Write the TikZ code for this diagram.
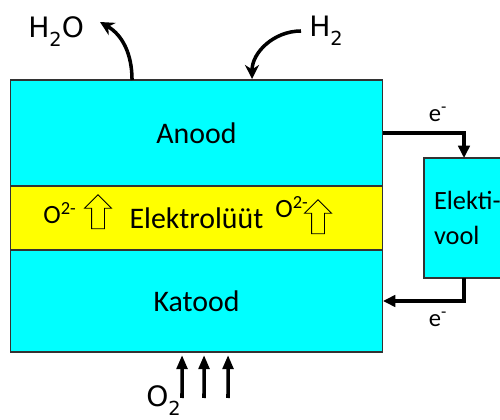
\documentclass[tikz,border=0pt]{standalone}
\usepackage{fontspec}
\setmainfont{Carlito}
\newfontfamily\gasfont{DejaVu Sans}
\usetikzlibrary{calc,shapes.arrows,arrows.meta}
\definecolor{cellcyan}{RGB}{0,255,255}
\definecolor{cellyellow}{RGB}{255,255,0}

\begin{document}
\begin{tikzpicture}[x=0.02cm,y=0.02cm,
    layer/.style={draw=black!80,line width=0.6pt,fill=cellcyan,minimum width=7.46cm,
      outer sep=0pt,font=\fontsize{17}{20}\selectfont},
    wire/.style={line width=2pt,-{Triangle[length=7pt,width=6.5pt]}},
    gas/.style={line width=2pt,-{Stealth[length=8pt,width=8pt]}},
    gaslabel/.style={font=\gasfont\fontsize{16}{18}\selectfont,inner sep=0pt,anchor=base west},
    ion/.style={font=\fontsize{15}{16}\selectfont,inner sep=0pt},
    elabel/.style={font=\fontsize{14}{15}\selectfont},
    ionarrow/.style={shape=single arrow,draw,line width=0.5pt,shape border rotate=90,
      minimum height=0.68cm,minimum width=0.52cm,single arrow head extend=0.14cm,
      inner sep=0.12cm}]
  \useasboundingbox (0,0) rectangle (500,419);

  \node[layer,minimum height=2.12cm] (anood) at (196.5,286) {Anood};
  \node[layer,fill=cellyellow,minimum height=1.28cm] (elektrolyyt) at (196.5,201) {Elektrolüüt};
  \node[layer,minimum height=2.04cm] (katood) at (196.5,118) {Katood};
  \node[layer,minimum width=1.6cm,minimum height=2.4cm,inner xsep=0.2cm,text width=1.2cm,
    align=left,font=\fontsize{15}{20}\selectfont] (vool) at (464,201) {\mbox{Elekti-}\\vool};

  \node[ion] (ionL) at (60,206) {O\textsuperscript{2-}};
  \node[ionarrow] (ionarrL) at (98,204) {};
  \node[ion] (ionR) at (292,212) {O\textsuperscript{2-}};
  \node[ionarrow] (ionarrR) at (318,199) {};

  \draw[wire] (anood.east) -| (vool.north)
    node[pos=0.34,above=2pt,elabel] {e\textsuperscript{-}};
  \draw[wire] (vool.south) |- (katood.east)
    node[pos=0.66,below=2pt,elabel] {e\textsuperscript{-}};

  \node[gaslabel] (h2o) at (28,381) {H\raisebox{-0.3em}{\fontsize{11}{11}\selectfont 2}O};
  \node[gaslabel] (h2) at (309,382) {H\raisebox{-0.3em}{\fontsize{11}{11}\selectfont 2}};
  \node[gaslabel] (o2) at (146,12) {O\raisebox{-0.3em}{\fontsize{11}{11}\selectfont 2}};

  \coordinate (h2otip) at (100,397);
  \coordinate (h2start) at (301,388);
  \draw[gas] ($(anood.north west)+(122,0)$) to[out=90,in=-30] (h2otip);
  \draw[gas] (h2start) to[out=180,in=90] ($(anood.north west)+(242,1)$);

  \foreach \x in {182,204,228}
    \draw[wire,-{Triangle[length=8pt,width=6pt]}] (\x,21) -- ($(katood.south west)+(\x-10,-3)$);
\end{tikzpicture}
\end{document}
